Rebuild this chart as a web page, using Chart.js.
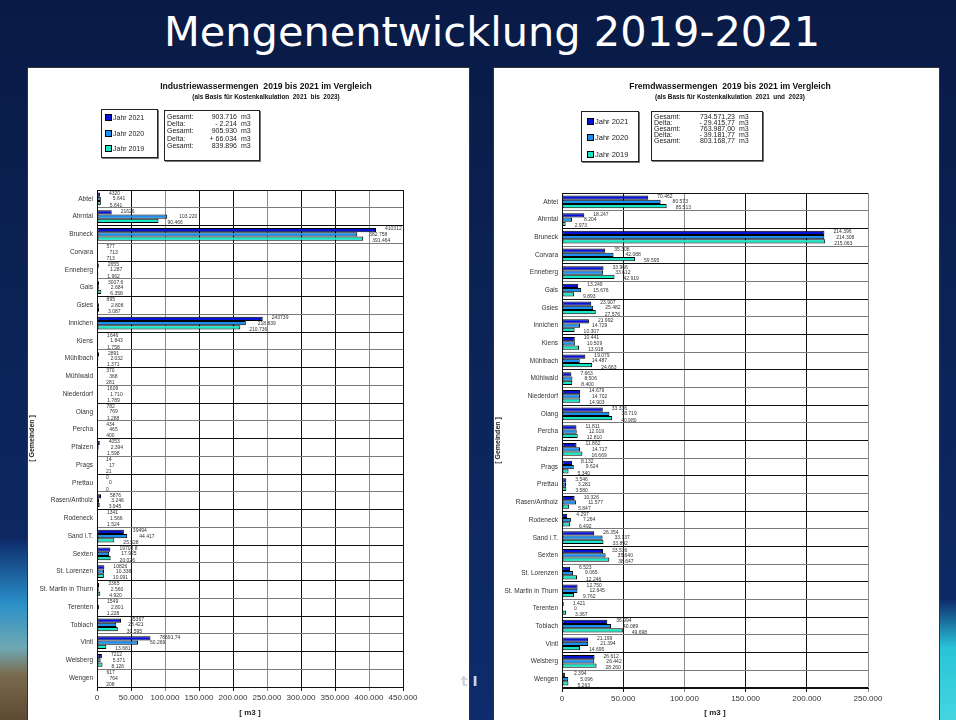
<!DOCTYPE html>
<html lang="de">
<head>
<meta charset="UTF-8">
<title>Mengenentwicklung 2019-2021</title>
<script src="https://cdn.jsdelivr.net/npm/chart.js"></script>
<style>
  body { margin: 0; width: 956px; height: 720px; overflow: hidden; position: relative;
         background: linear-gradient(180deg, #091a45 0%, #0b2356 45%, #0e2c6c 100%);
         font-family: "Liberation Sans", Arial, sans-serif; }
  #slideTitle { position: absolute; top: 7px; left: 0; width: 984px; text-align: center;
                color: #fff; font: 41.5px "DejaVu Sans", sans-serif; }
  .edge { position: absolute; }
  .panel { position: absolute; background: #fff; border: 1px solid #333; box-sizing: border-box; }
  .panel canvas { position: absolute; left: 0; top: 0; }
  .head { position: absolute; top: 13px; transform: translateX(-50%); text-align: center;
          white-space: pre; color: #111; font-weight: bold; }
  .head .t1 { font-size: 8.6px; }
  .head .t2 { font-size: 6.4px; margin-top: 2px; }
  .legend, .totals { position: absolute; border: 1px solid #222; box-shadow: 1px 1px 0 #777;
                     background: #fff; color: #222; box-sizing: border-box; }
  .legend div { position: absolute; left: 0; width: 100%; white-space: nowrap; }
  .legend i { display: inline-block; width: 5px; height: 5px; border: 1px solid #000;
              margin-right: 1px; vertical-align: -1px; }
  .totals table { border-collapse: collapse; }
  .totals td { padding: 0; white-space: pre; }
  .totals td.v { text-align: right; }
</style>
</head>
<body>
<div class="edge" style="left:0;top:540px;width:30px;height:180px;background:linear-gradient(180deg,#0e2c6c 0%,#2a8fc8 35%,#6fa9b4 60%,#7a6a4e 75%,#5c4a33 100%)"></div>
<div class="edge" style="left:936px;top:600px;width:20px;height:120px;background:linear-gradient(180deg,#0e2c6c 0%,#29c4d8 40%,#44d6e0 100%)"></div>

<div id="slideTitle">Mengenentwicklung 2019-2021</div>

<div class="panel" id="panelL" style="left:27px;top:67px;width:443px;height:660px">
  <canvas id="chartL" width="443" height="653"></canvas>
  <div class="head" style="left:238px"><div class="t1">Industriewassermengen  2019 bis 2021 im Vergleich</div><div class="t2">(als Basis für Kostenkalkulation  2021  bis  2023)</div></div>
  <div class="legend" id="legL" style="left:73px;top:41px;width:57px;height:49px;font-size:7px"></div>
  <div class="totals" id="totL" style="left:136px;top:42px;width:96px;height:51px;font-size:7px"></div>
</div>

<div class="panel" id="panelR" style="left:493px;top:67px;width:447px;height:660px">
  <canvas id="chartR" width="447" height="653"></canvas>
  <div class="head" style="left:236px"><div class="t1">Fremdwassermengen  2019 bis 2021 im Vergleich</div><div class="t2">(als Basis für Kostenkalkulation  2021  und  2023)</div></div>
  <div class="legend" id="legR" style="left:87px;top:43px;width:58px;height:51px;font-size:7.5px"></div>
  <div class="totals" id="totR" style="left:157px;top:43px;width:112px;height:50px;font-size:7px"></div>
</div>

<div class="edge" style="left:461px;top:673px;color:#cfd3dc;font:bold 14px 'DejaVu Sans',sans-serif">t I</div>

<script>
const gemeinden = ['Abtei', 'Ahrntal', 'Bruneck', 'Corvara', 'Enneberg', 'Gais', 'Gsies', 'Innichen',
  'Kiens', 'Mühlbach', 'Mühlwald', 'Niederdorf', 'Olang', 'Percha', 'Pfalzen', 'Prags', 'Prettau',
  'Rasen/Antholz', 'Rodeneck', 'Sand i.T.', 'Sexten', 'St. Lorenzen', 'St. Martin in Thurn',
  'Terenten', 'Toblach', 'Vintl', 'Welsberg', 'Wengen'];

const jahre = ['Jahr 2021', 'Jahr 2020', 'Jahr 2019'];
const farben = ['#0612d6', '#1d8ff0', '#18e6c4'];

// Industriewasser [m3]
const industrie2021 = [4320, 21626, 410312, 577, 2655, 3007.6, 895, 243739, 1646, 2891, 370, 1609, 782, 434,
  4053, 14, 0, 5876, 1341, 39494, 19708.8, 10826, 3365, 1549, 35367, 78691.74, 7212, 617];
const industrie2020 = [5641, 103220, 382758, 713, 1287, 2684, 2808, 218839, 1843, 2032, 368, 1710, 769, 465,
  2394, 17, 0, 3246, 1566, 44417, 17925, 10338, 2560, 2801, 28421, 60269, 5371, 764];
const industrie2019 = [5641, 90466, 391464, 713, 1962, 6358, 3087, 210736, 1758, 1371, 281, 1789, 1288, 400,
  1598, 21, 0, 3945, 1524, 25528, 20026, 10091, 4920, 1228, 30595, 13681, 8126, 208];

// Fremdwasser [m3]
const fremd2021 = [70462, 18247, 214396, 35308, 33966, 13249, 23907, 21992, 10441, 19079, 7663, 14679, 33336,
  11811, 11862, 8132, 3546, 10326, 4297, 26354, 33536, 6523, 12750, 1421, 36994, 21199, 26612, 2394];
const fremd2020 = [80573, 8204, 214308, 42088, 33612, 15676, 25482, 14729, 10509, 14487, 8506, 14702, 38719,
  12019, 14717, 9624, 3281, 11577, 7264, 33137, 35640, 9065, 12645, 0, 40089, 21394, 26442, 5096];
const fremd2019 = [85513, 2973, 215063, 59595, 42919, 9893, 27576, 10307, 13918, 24663, 8400, 14903, 40980,
  12810, 16669, 5340, 3580, 5847, 6492, 33892, 38647, 12246, 9762, 3367, 49698, 14695, 28260, 5263];

const summenIndustrie = [['Gesamt:', '903.716'], ['Delta:', '- 2.214'], ['Gesamt:', '905.930'],
  ['Delta:', '+ 66.034'], ['Gesamt:', '839.896']];
const summenFremd = [['Gesamt:', '734.571,23'], ['Delta:', '- 29.415,77'], ['Gesamt:', '763.987,00'],
  ['Delta:', '- 39.181,77'], ['Gesamt:', '803.168,77']];

Chart.defaults.font.family = '"Liberation Sans", Arial, sans-serif';
Chart.defaults.color = '#222';

// 12345.6 -> "12.345,6"
function punkte(v) {
  const [i, d] = String(v).split('.');
  return i.replace(/\B(?=(\d{3})+(?!\d))/g, '.') + (d ? ',' + d : '');
}
function ohne(v) {
  return String(v).replace('.', ',');
}

function fillLegend(id, rows) {
  const el = document.getElementById(id);
  rows.forEach((r, k) => {
    const d = document.createElement('div');
    d.style.top = r.top + 'px';
    d.style.paddingLeft = r.left + 'px';
    d.innerHTML = '<i style="background:' + farben[k] + '"></i>' + jahre[k];
    el.appendChild(d);
  });
}

function fillTotals(id, rows, w1, w2, lh) {
  const el = document.getElementById(id);
  let html = '<table style="margin:2px 0 0 2px;line-height:' + lh + 'px">';
  rows.forEach(r => {
    html += '<tr><td style="width:' + w1 + 'px">' + r[0] + '</td><td class="v" style="width:' + w2 + 'px">' +
      r[1] + '</td><td>  m3</td></tr>';
  });
  el.innerHTML = html + '</table>';
}

fillLegend('legL', [{top: 4, left: 3}, {top: 20, left: 3}, {top: 35, left: 3}]);
fillLegend('legR', [{top: 5, left: 5}, {top: 21, left: 5}, {top: 38, left: 5}]);
fillTotals('totL', summenIndustrie, 34, 36, 7.2);
fillTotals('totR', summenFremd, 42, 39, 5.9);

// small value labels to the right of each bar
function wertLabels(formate, dx, dy) {
  return {
    id: 'wertLabels',
    afterDatasetsDraw(chart) {
      const ctx = chart.ctx;
      ctx.save();
      ctx.font = '5px "Liberation Sans", Arial, sans-serif';
      ctx.fillStyle = '#333';
      ctx.textBaseline = 'middle';
      chart.data.datasets.forEach((ds, i) => {
        chart.getDatasetMeta(i).data.forEach((bar, j) => {
          ctx.fillText(formate[i](ds.data[j]), bar.x + dx[i], bar.y + dy[i]);
        });
      });
      ctx.restore();
    }
  };
}

function makeChart(id, reihen, maxX, pad, yWidth, xHeight, formate) {
  new Chart(document.getElementById(id), {
    type: 'bar',
    data: {
      labels: gemeinden,
      datasets: reihen.map((r, k) => ({
        label: jahre[k],
        data: r,
        backgroundColor: farben[k],
        borderColor: '#000',
        borderWidth: 1,
        borderSkipped: false,
        barPercentage: 1,
        categoryPercentage: 0.72
      }))
    },
    options: {
      indexAxis: 'y',
      responsive: false,
      animation: false,
      devicePixelRatio: 1,
      layout: { padding: pad },
      plugins: { legend: { display: false }, tooltip: { enabled: false } },
      scales: {
        x: {
          min: 0, max: maxX,
          afterFit: s => { s.height = xHeight; },
          ticks: { stepSize: 50000, font: { size: 8 }, color: '#333', padding: 2,
                   autoSkip: false, maxRotation: 0, minRotation: 0,
                   callback: v => punkte(v) },
          grid: { color: c => (c.index % 3 === 2 ? '#8c8c8c' : '#111'), lineWidth: 1, tickLength: 4 },
          border: { color: '#111' },
          title: { display: true, text: '[ m3 ]', font: { size: 8, weight: 'bold' }, color: '#222',
                   padding: { top: 0, bottom: 3 } }
        },
        y: {
          afterFit: s => { s.width = yWidth; },
          ticks: { font: { size: 6.5 }, color: '#333', padding: 4, autoSkip: false },
          grid: { color: c => (c.index % 2 ? '#7a7a7a' : '#111'), lineWidth: 1, drawTicks: false },
          border: { color: '#111' },
          title: { display: true, text: '[ Gemeinden ]', font: { size: 7, weight: 'bold' }, color: '#222',
                   padding: { top: 0, bottom: 0 } }
        }
      }
    },
    plugins: [wertLabels(formate, [9, 12, 9], [-1, 0, 2])]
  });
}

makeChart('chartL', [industrie2021, industrie2020, industrie2019], 450000,
  { top: 122, right: 68, bottom: 0, left: 0 }, 69, 34, [ohne, punkte, punkte]);
makeChart('chartR', [fremd2021, fremd2020, fremd2019], 250000,
  { top: 125, right: 73, bottom: 0, left: 0 }, 68, 33, [punkte, punkte, punkte]);
</script>
</body>
</html>
